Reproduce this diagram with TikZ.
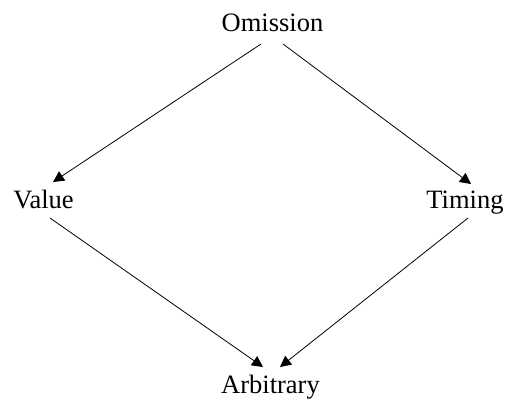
\documentclass[tikz,border=0pt]{standalone}
\usepackage{fontspec}
\setmainfont{Liberation Serif}
\usetikzlibrary{arrows.meta,calc}
\begin{document}
\begin{tikzpicture}[x=1pt,y=-1pt,
  lbl/.style={inner sep=0pt,anchor=base,font=\fontsize{26.5}{30}\selectfont},
  edge/.style={line width=0.8pt,-{Triangle[length=11pt,width=11pt]}}]
\path[use as bounding box] (0,0) rectangle (505,401);
\node[lbl] (O) at (272.5,32) {Omission};
\node[lbl] (V) at (43.5,208) {Value};
\node[lbl] (T) at (465,208) {Timing};
\node[lbl] (A) at (270.5,393) {Arbitrary};
\draw[edge] ($(O.base)+(-11.5,12)$) -- ($(V.base)+(9.5,-26)$);
\draw[edge] ($(O.base)+(10.5,12)$) -- ($(T.base)+(6,-24)$);
\draw[edge] ($(V.base)+(6.5,10)$) -- ($(A.base)+(-7.5,-26)$);
\draw[edge] ($(T.base)+(3,10)$) -- ($(A.base)+(9.5,-26)$);
\end{tikzpicture}
\end{document}
